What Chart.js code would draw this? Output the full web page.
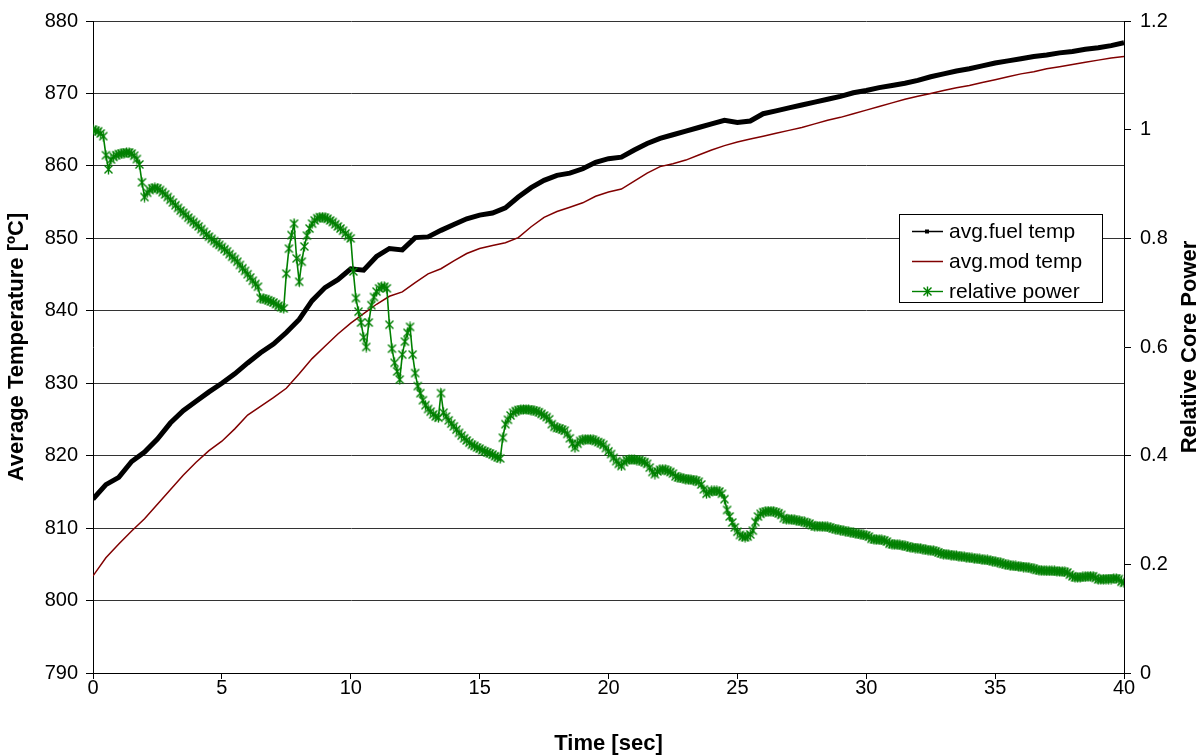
<!DOCTYPE html>
<html>
<head>
<meta charset="utf-8">
<script src="https://cdn.jsdelivr.net/npm/chart.js@4.4.0/dist/chart.umd.min.js"></script>
<style>
  html, body { margin: 0; padding: 0; background: #fff; }
  canvas { display: block; }
</style>
</head>
<body>
<canvas id="chart" width="1204" height="755"></canvas>
<script>
// sample times (sec) of the relative power curve
const powerTimes = [
  0, 0.1, 0.2, 0.3, 0.4, 0.5, 0.6, 0.7, 0.8, 0.9,
  1, 1.1, 1.2, 1.3, 1.4, 1.5, 1.6, 1.7, 1.8, 1.9,
  2, 2.1, 2.2, 2.3, 2.4, 2.5, 2.6, 2.7, 2.8, 2.9,
  3, 3.1, 3.2, 3.3, 3.4, 3.5, 3.6, 3.7, 3.8, 3.9,
  4, 4.1, 4.2, 4.3, 4.4, 4.5, 4.6, 4.7, 4.8, 4.9,
  5, 5.1, 5.2, 5.3, 5.4, 5.5, 5.6, 5.7, 5.8, 5.9,
  6, 6.1, 6.2, 6.3, 6.4, 6.5, 6.6, 6.7, 6.8, 6.9,
  7, 7.1, 7.2, 7.3, 7.4, 7.5, 7.6, 7.7, 7.8, 7.9,
  8, 8.1, 8.2, 8.3, 8.4, 8.5, 8.6, 8.7, 8.8, 8.9,
  9, 9.1, 9.2, 9.3, 9.4, 9.5, 9.6, 9.7, 9.8, 9.9,
  10, 10.1, 10.2, 10.3, 10.4, 10.5, 10.6, 10.7, 10.8, 10.9,
  11, 11.1, 11.2, 11.3, 11.4, 11.5, 11.6, 11.7, 11.8, 11.9,
  12, 12.1, 12.2, 12.3, 12.4, 12.5, 12.6, 12.7, 12.8, 12.9,
  13, 13.1, 13.2, 13.3, 13.4, 13.5, 13.6, 13.7, 13.8, 13.9,
  14, 14.1, 14.2, 14.3, 14.4, 14.5, 14.6, 14.7, 14.8, 14.9,
  15, 15.1, 15.2, 15.3, 15.4, 15.5, 15.6, 15.7, 15.8, 15.9,
  16, 16.1, 16.2, 16.3, 16.4, 16.5, 16.6, 16.7, 16.8, 16.9,
  17, 17.1, 17.2, 17.3, 17.4, 17.5, 17.6, 17.7, 17.8, 17.9,
  18, 18.1, 18.2, 18.3, 18.4, 18.5, 18.6, 18.7, 18.8, 18.9,
  19, 19.1, 19.2, 19.3, 19.4, 19.5, 19.6, 19.7, 19.8, 19.9,
  20, 20.1, 20.2, 20.3, 20.4, 20.5, 20.6, 20.7, 20.8, 20.9,
  21, 21.1, 21.2, 21.3, 21.4, 21.5, 21.6, 21.7, 21.8, 21.9,
  22, 22.1, 22.2, 22.3, 22.4, 22.5, 22.6, 22.7, 22.8, 22.9,
  23, 23.1, 23.2, 23.3, 23.4, 23.5, 23.6, 23.7, 23.8, 23.9,
  24, 24.1, 24.2, 24.3, 24.4, 24.5, 24.6, 24.7, 24.8, 24.9,
  25, 25.1, 25.2, 25.3, 25.4, 25.5, 25.6, 25.7, 25.8, 25.9,
  26, 26.1, 26.2, 26.3, 26.4, 26.5, 26.6, 26.7, 26.8, 26.9,
  27, 27.1, 27.2, 27.3, 27.4, 27.5, 27.6, 27.7, 27.8, 27.9,
  28, 28.1, 28.2, 28.3, 28.4, 28.5, 28.6, 28.7, 28.8, 28.9,
  29, 29.1, 29.2, 29.3, 29.4, 29.5, 29.6, 29.7, 29.8, 29.9,
  30, 30.1, 30.2, 30.3, 30.4, 30.5, 30.6, 30.7, 30.8, 30.9,
  31, 31.1, 31.2, 31.3, 31.4, 31.5, 31.6, 31.7, 31.8, 31.9,
  32, 32.1, 32.2, 32.3, 32.4, 32.5, 32.6, 32.7, 32.8, 32.9,
  33, 33.1, 33.2, 33.3, 33.4, 33.5, 33.6, 33.7, 33.8, 33.9,
  34, 34.1, 34.2, 34.3, 34.4, 34.5, 34.6, 34.7, 34.8, 34.9,
  35, 35.1, 35.2, 35.3, 35.4, 35.5, 35.6, 35.7, 35.8, 35.9,
  36, 36.1, 36.2, 36.3, 36.4, 36.5, 36.6, 36.7, 36.8, 36.9,
  37, 37.1, 37.2, 37.3, 37.4, 37.5, 37.6, 37.7, 37.8, 37.9,
  38, 38.1, 38.2, 38.3, 38.4, 38.5, 38.6, 38.7, 38.8, 38.9,
  39, 39.1, 39.2, 39.3, 39.4, 39.5, 39.6, 39.7, 39.8, 39.9,
  40
];

// relative core power, one row per second
const relativePower = [
  1.000, 0.998, 0.997, 0.993, 0.988, 0.953, 0.927, 0.945, 0.950, 0.953,
  0.955, 0.956, 0.957, 0.958, 0.958, 0.956, 0.952, 0.946, 0.936, 0.903,
  0.876, 0.884, 0.889, 0.892, 0.893, 0.892, 0.889, 0.885, 0.881, 0.876,
  0.871, 0.866, 0.861, 0.856, 0.851, 0.847, 0.843, 0.838, 0.834, 0.830,
  0.826, 0.822, 0.817, 0.812, 0.807, 0.803, 0.799, 0.795, 0.791, 0.788,
  0.784, 0.780, 0.776, 0.771, 0.766, 0.762, 0.757, 0.751, 0.745, 0.740,
  0.734, 0.728, 0.722, 0.716, 0.711, 0.690, 0.689, 0.688, 0.686, 0.684,
  0.682, 0.679, 0.676, 0.673, 0.671, 0.735, 0.781, 0.806, 0.827, 0.763,
  0.720, 0.757, 0.785, 0.805, 0.818, 0.827, 0.833, 0.837, 0.839, 0.839,
  0.838, 0.836, 0.833, 0.830, 0.826, 0.822, 0.818, 0.814, 0.809, 0.804,
  0.800, 0.739, 0.690, 0.665, 0.645, 0.618, 0.600, 0.645, 0.677, 0.692,
  0.702, 0.708, 0.711, 0.711, 0.708, 0.641, 0.597, 0.571, 0.555, 0.540,
  0.586, 0.610, 0.626, 0.637, 0.586, 0.552, 0.528, 0.515, 0.502, 0.493,
  0.486, 0.481, 0.476, 0.472, 0.470, 0.515, 0.479, 0.472, 0.465, 0.459,
  0.454, 0.448, 0.442, 0.437, 0.432, 0.428, 0.424, 0.420, 0.418, 0.415,
  0.413, 0.410, 0.408, 0.406, 0.404, 0.402, 0.399, 0.397, 0.395, 0.433,
  0.458, 0.466, 0.474, 0.479, 0.482, 0.484, 0.485, 0.485, 0.485, 0.485,
  0.484, 0.483, 0.482, 0.480, 0.477, 0.474, 0.471, 0.467, 0.458, 0.453,
  0.451, 0.450, 0.448, 0.446, 0.440, 0.432, 0.422, 0.415, 0.422, 0.427,
  0.429, 0.430, 0.430, 0.430, 0.429, 0.427, 0.425, 0.423, 0.420, 0.414,
  0.408, 0.403, 0.396, 0.390, 0.385, 0.381, 0.388, 0.392, 0.393, 0.393,
  0.393, 0.392, 0.392, 0.390, 0.388, 0.385, 0.378, 0.370, 0.366, 0.371,
  0.374, 0.375, 0.374, 0.372, 0.370, 0.367, 0.362, 0.360, 0.359, 0.358,
  0.357, 0.356, 0.356, 0.355, 0.354, 0.352, 0.347, 0.338, 0.330, 0.333,
  0.335, 0.335, 0.335, 0.334, 0.330, 0.320, 0.300, 0.288, 0.277, 0.268,
  0.260, 0.254, 0.251, 0.250, 0.251, 0.255, 0.262, 0.278, 0.288, 0.293,
  0.296, 0.297, 0.298, 0.298, 0.297, 0.296, 0.294, 0.291, 0.285, 0.283,
  0.283, 0.283, 0.282, 0.281, 0.280, 0.279, 0.278, 0.276, 0.275, 0.272,
  0.270, 0.270, 0.270, 0.270, 0.269, 0.269, 0.268, 0.266, 0.265, 0.264,
  0.263, 0.262, 0.261, 0.260, 0.259, 0.258, 0.257, 0.256, 0.255, 0.254,
  0.253, 0.251, 0.247, 0.246, 0.246, 0.245, 0.245, 0.244, 0.242, 0.238,
  0.237, 0.237, 0.236, 0.236, 0.235, 0.234, 0.233, 0.231, 0.231, 0.230,
  0.230, 0.229, 0.228, 0.227, 0.226, 0.226, 0.225, 0.224, 0.222, 0.220,
  0.219, 0.218, 0.218, 0.217, 0.216, 0.216, 0.215, 0.214, 0.214, 0.213,
  0.212, 0.212, 0.211, 0.210, 0.210, 0.209, 0.208, 0.208, 0.207, 0.206,
  0.205, 0.204, 0.203, 0.201, 0.200, 0.199, 0.198, 0.197, 0.197, 0.196,
  0.196, 0.195, 0.195, 0.194, 0.193, 0.192, 0.190, 0.189, 0.189, 0.188,
  0.188, 0.188, 0.188, 0.188, 0.187, 0.187, 0.187, 0.186, 0.185, 0.181,
  0.178, 0.176, 0.176, 0.176, 0.177, 0.177, 0.178, 0.178, 0.178, 0.175,
  0.172, 0.172, 0.173, 0.173, 0.173, 0.173, 0.174, 0.174, 0.173, 0.168,
  0.166
];

// sample times (sec) of the two temperature curves
const tempTimes = [
  0, 0.5, 1, 1.5, 2, 2.5, 3, 3.5, 4, 4.5,
  5, 5.5, 6, 6.5, 7, 7.5, 8, 8.5, 9, 9.5,
  10, 10.5, 11, 11.5, 12, 12.5, 13, 13.5, 14, 14.5,
  15, 15.5, 16, 16.5, 17, 17.5, 18, 18.5, 19, 19.5,
  20, 20.5, 21, 21.5, 22, 22.5, 23, 23.5, 24, 24.5,
  25, 25.5, 26, 26.5, 27, 27.5, 28, 28.5, 29, 29.5,
  30, 30.5, 31, 31.5, 32, 32.5, 33, 33.5, 34, 34.5,
  35, 35.5, 36, 36.5, 37, 37.5, 38, 38.5, 39, 39.5,
  40
];

// average fuel temperature (degC)
const fuelTemp = [
  814.0, 816.0, 817.0, 819.2, 820.5, 822.3, 824.5, 826.2, 827.5, 828.8,
  830.0, 831.3, 832.8, 834.2, 835.4, 837.0, 838.8, 841.4, 843.2, 844.3,
  845.8, 845.6, 847.5, 848.6, 848.4, 850.1, 850.2, 851.1, 851.9, 852.7,
  853.2, 853.5, 854.2, 855.7, 857.0, 858.0, 858.7, 859.0, 859.6, 860.5,
  861.0, 861.2, 862.2, 863.1, 863.8, 864.3, 864.8, 865.3, 865.8, 866.3,
  866.0, 866.2, 867.2, 867.6, 868.0, 868.4, 868.8, 869.2, 869.6, 870.1,
  870.4, 870.8, 871.1, 871.4, 871.8, 872.3, 872.7, 873.1, 873.4, 873.8,
  874.2, 874.5, 874.8, 875.1, 875.3, 875.6, 875.8, 876.1, 876.3, 876.6,
  877.0
];

// average moderator temperature (degC)
const modTemp = [
  803.4, 805.9, 807.8, 809.6, 811.3, 813.3, 815.3, 817.3, 819.1, 820.7,
  822.0, 823.7, 825.6, 826.8, 828.0, 829.3, 831.3, 833.4, 835.1, 836.8,
  838.3, 839.6, 840.9, 842.0, 842.6, 843.9, 845.1, 845.8, 846.9, 847.9,
  848.6, 849.0, 849.4, 850.1, 851.6, 852.9, 853.7, 854.3, 854.9, 855.8,
  856.4, 856.8, 857.9, 859.0, 859.9, 860.3, 860.8, 861.5, 862.2, 862.8,
  863.3, 863.7, 864.1, 864.5, 864.9, 865.3, 865.8, 866.3, 866.7, 867.2,
  867.7, 868.2, 868.7, 869.2, 869.6, 870.0, 870.4, 870.8, 871.1, 871.5,
  871.9, 872.3, 872.7, 873.0, 873.4, 873.7, 874.0, 874.3, 874.6, 874.9,
  875.1
];

const seriesNames = ['avg.fuel temp', 'avg.mod temp', 'relative power'];
const seriesColors = ['#000000', '#800000', '#008000'];
const rightTitle = 'Relative Core Power';

const FONT = '"Liberation Sans", Arial, sans-serif';

function toPoints(xs, ys) {
  return xs.map((x, i) => ({ x: x, y: ys[i] }));
}

// excel-like star marker: an x with a vertical bar
function makeStar(color) {
  const c = document.createElement('canvas');
  c.width = 11;
  c.height = 11;
  const g = c.getContext('2d');
  g.strokeStyle = color;
  g.lineWidth = 1.4;
  g.beginPath();
  g.moveTo(1.5, 1.5); g.lineTo(9.5, 9.5);
  g.moveTo(9.5, 1.5); g.lineTo(1.5, 9.5);
  g.moveTo(5.5, 0.5); g.lineTo(5.5, 10.5);
  g.stroke();
  return c;
}
const starMarker = makeStar(seriesColors[2]);

// boxed legend inside the plot area and the right axis title (reads upward)
const extras = {
  id: 'extras',
  afterDraw(chart) {
    const ctx = chart.ctx;
    const area = chart.chartArea;
    const left = Math.round(area.right - 225);
    const top = Math.round(area.top + 193);
    const w = 203, h = 88;
    ctx.save();
    ctx.fillStyle = '#fff';
    ctx.fillRect(left, top, w, h);
    ctx.strokeStyle = '#000';
    ctx.lineWidth = 1;
    ctx.strokeRect(left + 0.5, top + 0.5, w, h);
    ctx.font = '21px ' + FONT;
    ctx.textBaseline = 'middle';
    ctx.textAlign = 'left';
    seriesNames.forEach((name, i) => {
      const y = top + 17 + i * 30;
      ctx.strokeStyle = seriesColors[i];
      ctx.lineWidth = i === 2 ? 1.4 : 1.5;
      ctx.beginPath();
      ctx.moveTo(left + 13, y + 0.5);
      ctx.lineTo(left + 44, y + 0.5);
      ctx.stroke();
      if (i === 0) {
        ctx.fillStyle = '#000';
        ctx.fillRect(left + 26, y - 1.5, 4, 4);
      } else if (i === 2) {
        ctx.drawImage(starMarker, left + 23, y - 5);
      }
      ctx.fillStyle = '#000';
      ctx.fillText(name, left + 50, y + 1);
    });

    const yScale = chart.scales.y1;
    ctx.translate(yScale.right - 14, (area.top + area.bottom) / 2);
    ctx.rotate(-Math.PI / 2);
    ctx.font = 'bold 22px ' + FONT;
    ctx.textAlign = 'center';
    ctx.textBaseline = 'middle';
    ctx.fillStyle = '#000';
    ctx.fillText(rightTitle, 0, 0);
    ctx.restore();
  }
};

const tickFont = { family: FONT, size: 20 };
const titleFont = { family: FONT, size: 22, weight: 'bold', lineHeight: 1 };

new Chart(document.getElementById('chart'), {
  type: 'line',
  data: {
    datasets: [
      {
        label: seriesNames[0],
        data: toPoints(tempTimes, fuelTemp),
        yAxisID: 'y',
        borderColor: seriesColors[0],
        borderWidth: 5,
        pointRadius: 0,
        order: 3
      },
      {
        label: seriesNames[1],
        data: toPoints(tempTimes, modTemp),
        yAxisID: 'y',
        borderColor: seriesColors[1],
        borderWidth: 1.5,
        pointRadius: 0,
        order: 2
      },
      {
        label: seriesNames[2],
        data: toPoints(powerTimes, relativePower),
        yAxisID: 'y1',
        borderColor: seriesColors[2],
        borderWidth: 1.6,
        pointStyle: starMarker,
        pointRadius: 5,
        order: 1
      }
    ]
  },
  options: {
    responsive: false,
    animation: false,
    devicePixelRatio: 1,
    layout: { padding: { top: 18, left: 0, right: 0, bottom: 0 } },
    plugins: {
      legend: { display: false },
      tooltip: { enabled: false }
    },
    scales: {
      x: {
        type: 'linear',
        min: 0,
        max: 40,
        ticks: { stepSize: 5, font: tickFont, color: '#000', padding: -3, maxRotation: 0 },
        grid: { drawOnChartArea: false, tickLength: 6, color: '#000' },
        border: { color: '#000', width: 1 },
        title: { display: true, text: 'Time [sec]', font: titleFont, color: '#000', padding: { top: 0, bottom: 0 } },
        afterFit(scale) { scale.height = 82; }
      },
      y: {
        position: 'left',
        min: 790,
        max: 880,
        ticks: { stepSize: 10, font: tickFont, color: '#000', padding: 8 },
        grid: { color: '#333', tickLength: 7, tickColor: '#000' },
        border: { color: '#000', width: 1 },
        title: { display: true, text: 'Average Temperature [ºC]', font: titleFont, color: '#000', padding: { top: 6, bottom: 0 } },
        afterFit(scale) { scale.width = 93; }
      },
      y1: {
        position: 'right',
        min: 0,
        max: 1.2,
        ticks: {
          stepSize: 0.2,
          font: tickFont,
          color: '#000',
          padding: 9,
          callback: v => String(Number(v.toFixed(1)))
        },
        grid: { drawOnChartArea: false, tickLength: 7, color: '#000' },
        border: { color: '#000', width: 1 },
        afterFit(scale) { scale.width = 80; }
      }
    }
  },
  plugins: [extras]
});
</script>
</body>
</html>
